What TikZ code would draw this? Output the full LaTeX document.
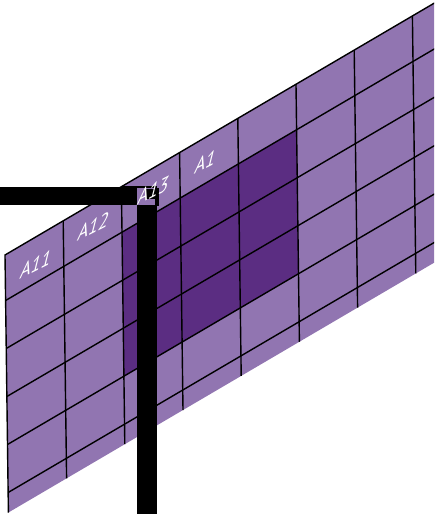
\documentclass[tikz,border=0pt]{standalone}
\usepackage{fontspec}
\setmainfont{PT Sans}
\definecolor{lightpurp}{HTML}{9175B1}
\definecolor{darkpurp}{HTML}{5B2D82}
\begin{document}
\begin{tikzpicture}[x=1pt,y=-1pt,
  gridline/.style={line width=1.4pt, black},
  lab/.style={text=white, font=\fontsize{23}{23}\selectfont, anchor=base west,
    cm={0.784,0.400,0.242,0.970,(0pt,0pt)}, transform shape, inner sep=0pt},
  barfill/.style={fill=black}]
\useasboundingbox (0,0) rectangle (434,514);
\begin{scope}
\clip (0,0) rectangle (434,514);
\begin{scope}[shift={(5,255)}, x={(58.2pt,34.15pt)}, y={(0.0132pt,-1pt)}]
  \fill[lightpurp] (0,0) -- (8,0) -- (8,257.5) -- (0,257.5) -- cycle;
  \fill[darkpurp] (2,45.5) -- (5,45.5) -- (5,189.5) -- (2,189.5) -- cycle;
  \foreach \i in {1,...,7} \draw[gridline] (\i,0) -- (\i,257.5);
  \foreach \v in {45.5,93.5,141.5,189.5,237.5} \draw[gridline] (0,\v) -- (8,\v);
  \draw[gridline, line join=miter] (0,257.5) -- (0,0) -- (8,0);
\end{scope}
\node[lab] (a11) at (19,280) {A11};
\node[lab] (a12) at (76.5,242) {A12};
\node[lab] (a1) at (193.5,175) {A1};
% black bar
\fill[barfill] (0,187) rectangle (137,205);
\fill[barfill] (137,205) rectangle (157,514);
\fill[barfill] (122,186.3) rectangle (157,188.3);
\fill[barfill] (154.5,188) rectangle (158.5,206);
\fill[barfill] (146,189) rectangle (154.5,199);
\node[lab] (a13) at (136.5,206) {A13};
\end{scope}
\end{tikzpicture}
\end{document}
